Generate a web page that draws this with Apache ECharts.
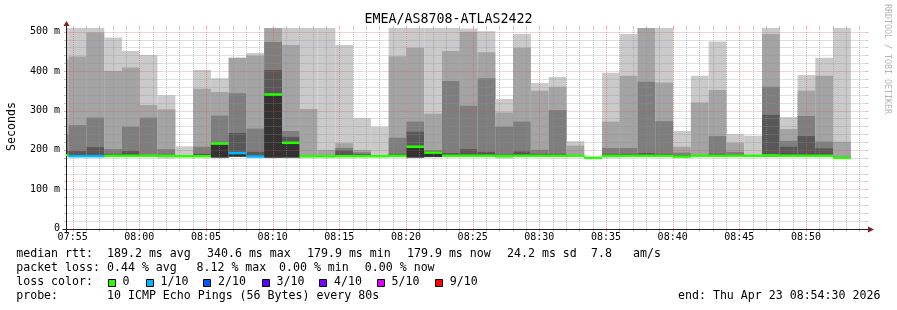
<!DOCTYPE html>
<html><head><meta charset="utf-8">
<script src="https://cdn.jsdelivr.net/npm/echarts@6/dist/echarts.min.js"></script>
<style>html,body{margin:0;padding:0;background:#fff}#c{width:897px;height:310px}</style>
</head><body><div id="c"></div>
<script>
// ---------------- data ----------------
const graphStartClock = '07:54:30';      // left edge of the time axis
const graphSpanSec = 3600;
const firstStepStartSec = -68;           // step start (s) relative to graph start
const stepSec = 80;
// sorted ping times per step (ms): p1 = min, p5 = low edge of darkest band, p6 = median, p7..p9, p10 = max
const rttMax    = [520,520,520,485,451,441,339,209,403,382,434,446,600,600,600,600,466,281,259,600,600,600,600,508,501,329,494,370,385,222,181,396,494,600,600,248,388,475,240,236,600,283,390,434,600];
const rttP9     = [430,437,498,400,409,314,303,187,355,347,434,439,600,466,304,200,217,200,186,438,459,292,451,500,448,295,459,350,360,211,181,272,388,600,371,208,320,352,218,187,494,253,350,388,221];
const rttP8     = [240,263,282,202,259,282,202,186,208,287,344,254,474,248,186,186,205,194,185,231,272,199,375,312,382,259,272,200,301,187,180.5,205,205,373,273,193,187,235,195,186,360,223,286,221,183];
const rttP7     = [198,197,207,190,197,187,188,185.5,190,217,243,195,403,233,185,185,198,189,185,190,246,197,192,202,195,188,196,190,190,186,180.2,190,190,192,190,187,186,190,188,185.5,289,208,235,204,182];
const rttMedian = [187,184,184,185,185,185,185,184,184,216,192,183,340.6,218,184,184,184,184,184,185,208,193,185,185,185,184.5,185,185,185,185,179.9,185,185,185,185,183,185,185,185,185,186,185,185,185,179.9];
const rttLow    = [185,183,183,183.5,183.5,183.5,183.5,183,183,181,183,182,181,181,183,183,183,183,183,183.5,181,182,183.5,183.5,183.5,183,183.5,183.5,183.5,183.5,179.8,183.5,183.5,183.5,183.5,182,183.5,183.5,183.5,183.5,184,183.5,183.5,183.5,179.8];
const rttMin    = [183,182,182,182,182,182,178.5,182,182,180,182,182,181,180,180,180,182,182,182,182,181,181,182,182,182,179,182,182,182,182,179.5,180,182,182,182,180,182,182,182,182,182,182,182,182,179.5];
const lossPct   = [0,4.0,5.0,0,0,0,0,0,0,0,8.12,2.5,0,0,0,0,0,0,0,0,0,0,0,0,0,0,0,0,0,0,0,0,0,0,0,0,0,0,0,0,0,0,0,0,0];

const xTickLabels = ['07:55','08:00','08:05','08:10','08:15','08:20','08:25','08:30','08:35','08:40','08:45','08:50'];
const yTickValues = [0,100,200,300,400,500];
const yMax = 509.4;

const title = 'EMEA/AS8708-ATLAS2422';
const medianStats = ['189.2 ms avg','340.6 ms max','179.9 ms min','179.9 ms now','24.2 ms sd','7.8','am/s'];
const lossStats   = ['0.44 % avg','8.12 % max','0.00 % min','0.00 % now'];
const lossLegendLabels = ['0','1/10','2/10','3/10','4/10','5/10','9/10'];
const lossLegendColors = ['#26ff00','#00b8ff','#0059ff','#5e00ff','#7e00ff','#dd00ff','#ff0000'];
const lossUpperPct     = [0,10,20,30,40,50,100];
const probeText = '10 ICMP Echo Pings (56 Bytes) every 80s';
const endText = 'end: Thu Apr 23 08:54:30 2026';

// ---------------- helpers ----------------
const MONO = '"DejaVu Sans Mono", "Liberation Mono", monospace';
const SMOKE = ['#cacaca','#a4a4a4','#7e7e7e','#585858','#323232'];
function clockToSec(c){const p=c.split(':').map(Number);return p[0]*3600+p[1]*60+(p[2]||0);}
const startSec = clockToSec(graphStartClock);
const xTickValues = xTickLabels.map(l => clockToSec(l) - startSec);
function lossColor(l){for(let i=0;i<lossUpperPct.length;i++){if(l<=lossUpperPct[i])return lossLegendColors[i];}return lossLegendColors[lossLegendColors.length-1];}

const smokeData = rttMedian.map((m,i)=>{
  const s = firstStepStartSec + i*stepSec;
  const lo = rttLow[i];
  return [s, s+stepSec, rttMin[i], lo, lo, lo, lo, m, rttP7[i], rttP8[i], rttP9[i], rttMax[i], lossPct[i]];
});

function csRect(params){const c=params.coordSys;return {x:c.x,y:c.y,width:c.width,height:c.height};}

function renderSmoke(params, api){
  const clip = csRect(params);
  const t0 = api.value(0), t1 = api.value(1);
  const ch = [];
  for (let i=0;i<5;i++){
    const lo = api.value(2+i), hi = api.value(11-i);
    if (!(hi>lo)) continue;
    const a = api.coord([t0, hi]), b = api.coord([t1, lo]);
    const shape = echarts.graphic.clipRectByRect({x:a[0],y:a[1],width:b[0]-a[0],height:b[1]-a[1]}, clip);
    if (shape) ch.push({type:'rect', shape, style:{fill:SMOKE[i]}});
  }
  return {type:'group', children:ch};
}
function renderMedian(params, api){
  const clip = csRect(params);
  const t0 = api.value(0), t1 = api.value(1);
  const a = api.coord([t0, api.value(7)]), b = api.coord([t1, api.value(7)]);
  const shape = echarts.graphic.clipRectByRect({x:a[0], y:a[1]-1.25, width:b[0]-a[0], height:2.5}, clip);
  if (!shape) return null;
  return {type:'rect', shape, style:{fill: lossColor(api.value(12))}};
}
function renderFrame(params, api){
  const c = params.coordSys;
  const L = Math.round(c.x)+0.5, B = Math.round(c.y+c.height)+0.5;
  const R = c.x + c.width, T = c.y;
  const minorC='rgba(143,143,143,0.55)', majorC='rgba(222,79,79,0.5)';
  const ch=[];
  for (let v=20; v<=500; v+=20){
    const y = Math.round(api.coord([0,v])[1])+0.5;
    const col = v%100===0?majorC:minorC;
    ch.push({type:'line',shape:{x1:L,y1:y,x2:R,y2:y},style:{stroke:col,lineWidth:1,lineDash:[1,1]}});
    ch.push({type:'line',shape:{x1:L-2.5,y1:y,x2:L,y2:y},style:{stroke:col,lineWidth:1}});
    ch.push({type:'line',shape:{x1:R,y1:y,x2:R+2,y2:y},style:{stroke:col,lineWidth:1}});
  }
  for (let s=30; s<graphSpanSec; s+=60){
    const x = Math.round(api.coord([s,0])[0])+0.5;
    const col = (s-30)%300===0?majorC:minorC;
    ch.push({type:'line',shape:{x1:x,y1:T,x2:x,y2:B},style:{stroke:col,lineWidth:1,lineDash:[1,1]}});
    ch.push({type:'line',shape:{x1:x,y1:B,x2:x,y2:B+2.5},style:{stroke:col,lineWidth:1}});
    ch.push({type:'line',shape:{x1:x,y1:T-2,x2:x,y2:T},style:{stroke:col,lineWidth:1}});
  }
  const axisC='#1f1f1f', arrowC='#7f1f1f';
  ch.push({type:'line',shape:{x1:L-4,y1:B,x2:R+3,y2:B},style:{stroke:axisC,lineWidth:1}});
  ch.push({type:'line',shape:{x1:L,y1:B+4,x2:L,y2:T-2},style:{stroke:axisC,lineWidth:1}});
  ch.push({type:'polygon',shape:{points:[[L,T-7],[L-3,T-2],[L+3,T-2]]},style:{fill:arrowC}});
  ch.push({type:'polygon',shape:{points:[[R+8,B],[R+2,B-3],[R+2,B+3]]},style:{fill:arrowC}});
  return {type:'group', children:ch};
}

// ---------------- graphic texts ----------------
const FS = 11.6;
function txt(x,y,text,extra){return Object.assign({type:'text',x,y,style:{text,font:FS+'px '+MONO,fill:'#000',align:'left',verticalAlign:'middle'}},extra||{});}
const rows=[254,268,281.8,295.8];
const gfx=[];
gfx.push({type:'text',x:448.5,y:19.4,style:{text:title,font:'13.3px '+MONO,fill:'#000',align:'center',verticalAlign:'middle'}});
gfx.push({type:'text',x:11.5,y:126.5,rotation:Math.PI/2,style:{text:'Seconds',font:FS+'px '+MONO,fill:'#000',align:'center',verticalAlign:'middle'}});
gfx.push({type:'text',x:887.5,y:59,rotation:-Math.PI/2,style:{text:'RRDTOOL / TOBI OETIKER',font:'8.3px '+MONO,fill:'#b4b4b4',align:'center',verticalAlign:'middle'}});
gfx.push(txt(16.2,rows[0],'median rtt:'));
[107,207,307,407,507,591,633].forEach((x,i)=>gfx.push(txt(x,rows[0],medianStats[i])));
gfx.push(txt(16.2,rows[1],'packet loss:'));
[107,196.5,279,364.8].forEach((x,i)=>gfx.push(txt(x,rows[1],lossStats[i])));
gfx.push(txt(16.2,rows[2],'loss color:'));
const boxX=[108.3,146,203.3,261.7,319.3,376.7,435];
const labX=[122.5,160.5,218,276.5,334,391.5,449.8];
lossLegendLabels.forEach((l,i)=>{
  gfx.push({type:'rect',shape:{x:Math.round(boxX[i])+0.5,y:279.5,width:7,height:7},style:{fill:lossLegendColors[i],stroke:'#000',lineWidth:1}});
  gfx.push(txt(labX[i],rows[2],l));
});
gfx.push(txt(16.2,rows[3],'probe:'));
gfx.push(txt(107,rows[3],probeText));
gfx.push(txt(678,rows[3],endText));

// ---------------- chart ----------------
const chart = echarts.init(document.getElementById('c'), null, {renderer:'canvas'});
chart.setOption({
  animation:false,
  backgroundColor:'#ffffff',
  grid:{left:66,right:31,top:28,bottom:81.3,containLabel:false,outerBoundsMode:'none'},
  xAxis:{type:'value',min:0,max:graphSpanSec,
    axisLine:{show:false},axisTick:{show:false},splitLine:{show:false},
    axisLabel:{customValues:xTickValues,formatter:(v)=>{const t=startSec+v;const h=Math.floor(t/3600),m=Math.floor((t%3600)/60);return String(h).padStart(2,'0')+':'+String(m).padStart(2,'0');},
      fontFamily:MONO,fontSize:10,color:'#000',verticalAlign:'middle',margin:8.5,hideOverlap:false}},
  yAxis:{type:'value',min:0,max:yMax,interval:100,
    axisLine:{show:false},axisTick:{show:false},splitLine:{show:false},
    axisLabel:{customValues:yTickValues,formatter:(v)=>v===0?'0':(v+' m'),fontFamily:MONO,fontSize:10,color:'#000',margin:6}},
  graphic:gfx,
  series:[
    {type:'custom',name:'smoke',renderItem:renderSmoke,data:smokeData,encode:{x:[0,1],y:[2,11]},z:2,silent:true},
    {type:'custom',name:'frame',renderItem:renderFrame,data:[[0,0]],z:3,silent:true},
    {type:'custom',name:'median',renderItem:renderMedian,data:smokeData,encode:{x:[0,1],y:7},z:4,silent:true}
  ]
});
</script></body></html>
